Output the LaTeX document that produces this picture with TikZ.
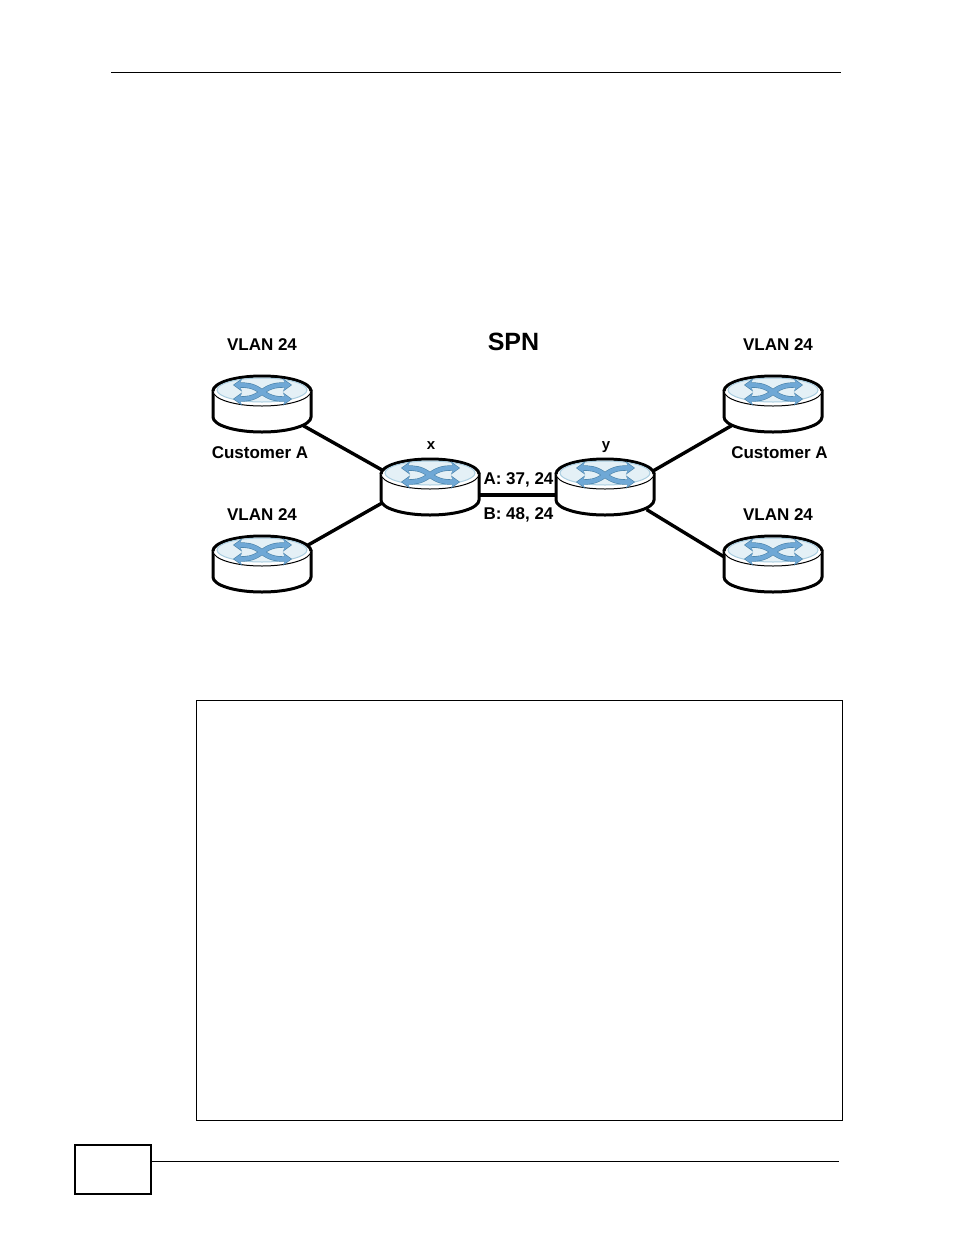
\documentclass[tikz,border=0pt]{standalone}
\usepackage{xcolor}
\usepackage{fontspec}
\setmainfont{Liberation Sans}
\usetikzlibrary{arrows.meta}
\definecolor{xblue}{HTML}{6FA8D6}
\definecolor{xedge}{HTML}{4A82A8}
\definecolor{ringblue}{HTML}{A9CDE0}
\definecolor{ringfill}{HTML}{E4F0F6}
\tikzset{
  routerbox/.style={minimum width=100pt,minimum height=56pt,inner sep=0pt},
  lbl/.style={font=\fontsize{17}{20}\bfseries\selectfont,inner sep=0pt},
  smalllbl/.style={font=\fontsize{15}{18}\bfseries\selectfont,inner sep=0pt},
  link/.style={line width=3.4pt,shorten <=-10pt,shorten >=-10pt},
  xout/.style={xedge,line width=5.4pt,-{Stealth[length=9pt,width=13pt]}},
  xin/.style={xblue,line width=4.2pt,-{Stealth[length=7.5pt,width=10.5pt]}},
  pics/router/.style={code={
    \draw[fill=white,line width=3pt] (-49,-13) -- (-49,13) arc[start angle=180,end angle=0,x radius=49,y radius=15] -- (49,-13) -- cycle;
    \draw[fill=white,line width=1pt] (0,-13) ellipse[x radius=49,y radius=15];
    \draw[line width=3pt] (-49,-13) arc[start angle=180,end angle=360,x radius=49,y radius=15];
    \draw[fill=ringfill,draw=ringblue,line width=1pt] (0,-14) ellipse[x radius=45,y radius=12];
    \draw[xout] (0,-12) .. controls (-9,-19) and (-16,-19) .. (-29,-19);
    \draw[xout] (0,-12) .. controls (9,-19) and (16,-19) .. (30,-19);
    \draw[xout] (0,-12) .. controls (-9,-5) and (-16,-5) .. (-29,-5);
    \draw[xout] (0,-12) .. controls (9,-5) and (16,-5) .. (30,-5);
    \draw[xin] (0,-12) .. controls (-9,-19) and (-16,-19) .. (-28,-19);
    \draw[xin] (0,-12) .. controls (9,-19) and (16,-19) .. (29,-19);
    \draw[xin] (0,-12) .. controls (-9,-5) and (-16,-5) .. (-28,-5);
    \draw[xin] (0,-12) .. controls (9,-5) and (16,-5) .. (29,-5);
  }}
}
\begin{document}
\begin{tikzpicture}[x=1pt,y=-1pt]
\useasboundingbox (0,0) rectangle (954,1235);

\node[routerbox] (ra) at (262,404) {};
\node[routerbox] (rb) at (262,564) {};
\node[routerbox] (rc) at (773,404) {};
\node[routerbox] (rd) at (773,564) {};
\node[routerbox] (rx) at (430,487) {};
\node[routerbox] (ry) at (605,487) {};

\draw[link] (ra.-28) -- (rx.160);
\draw[link] (rb.23) -- (rx.199);
\draw[link] (rc.208) -- (ry.19);
\draw[link] (rd.171) -- (ry.-29);
\draw[link] (rx.-9) -- (ry.189);

\pic at (ra.center) {router};
\pic at (rb.center) {router};
\pic at (rc.center) {router};
\pic at (rd.center) {router};
\pic at (rx.center) {router};
\pic at (ry.center) {router};

\node[lbl] (la) at (262,345) {VLAN 24};
\node[lbl] (lb) at (262,514.5) {VLAN 24};
\node[lbl] (lc) at (778,345) {VLAN 24};
\node[lbl] (ld) at (778,514.5) {VLAN 24};
\node[lbl] (ca) at (260,453) {Customer A};
\node[lbl] (cc) at (779.5,453) {Customer A};
\node[font=\fontsize{25}{28}\bfseries\selectfont,inner sep=0pt] (spn) at (513.5,342) {SPN};
\node[smalllbl] (lx) at (431,446) {x};
\node[smalllbl] (ly) at (606,447) {y};
\node[lbl] (va) at (518.5,480) {A: 37, 24};
\node[lbl] (vb) at (518.5,514.5) {B: 48, 24};

\coordinate (topl) at (111,72);
\coordinate (topr) at (841,72);
\draw[line width=1pt] (topl) -- (topr);

\node[draw,line width=1pt,minimum width=646pt,minimum height=420pt,inner sep=0pt] (tab) at (519.5,910) {};
\node[draw,line width=2.6pt,minimum width=76pt,minimum height=49pt,inner sep=0pt] (page) at (113,1169.5) {};
\coordinate (footr) at (839,1161);
\draw[line width=1pt] (page.east |- footr) -- (footr);
\end{tikzpicture}
\end{document}
